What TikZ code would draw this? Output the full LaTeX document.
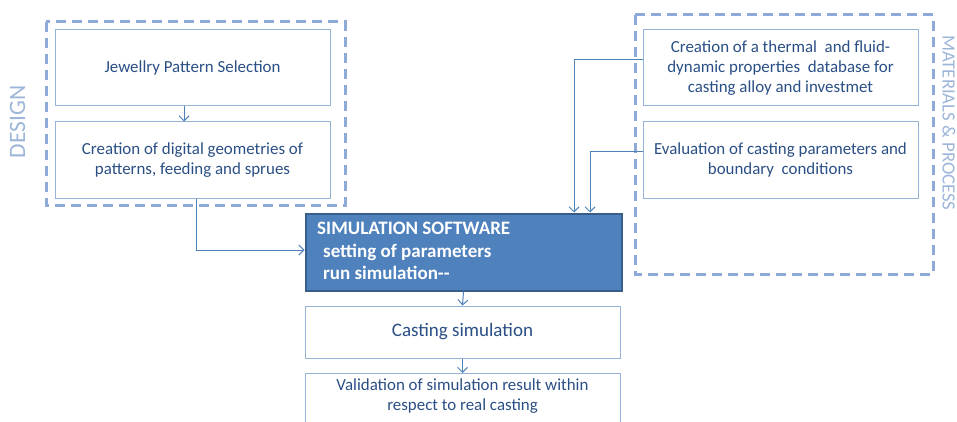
\documentclass[tikz,border=0pt]{standalone}
\usepackage{fontspec}
\setmainfont{Carlito}
\usepackage{tikz}
\usetikzlibrary{arrows.meta,positioning}

\definecolor{boxline}{HTML}{95B3D7}
\definecolor{dashline}{HTML}{8EAAD8}
\definecolor{txtblue}{HTML}{2A4F85}
\definecolor{linkblue}{HTML}{4F81BD}
\definecolor{simfill}{HTML}{4F81BD}
\definecolor{simline}{HTML}{385D8A}
\definecolor{sidetxt}{HTML}{9DB5D9}

\begin{document}
\begin{tikzpicture}[x=1pt,y=-1pt,
	stepbox/.style={draw=boxline,line width=1pt,fill=white,text=txtblue,align=center,
		minimum width=275pt,minimum height=76pt,inner sep=0pt,
		font=\fontsize{16.9}{20}\selectfont},
	groupbox/.style={draw=dashline,line width=3pt,dash pattern=on 10pt off 6pt},
	link/.style={draw=linkblue,line width=1pt,-{Straight Barb[length=5pt,width=10pt]}},
	sidelabel/.style={text=sidetxt,inner sep=0pt}]
	\useasboundingbox (0,0) rectangle (957,422);
	\tikzstyle{every node}+=[inner sep=0pt]
	% groups
	\draw [groupbox] (46,22) rectangle (345,205);
	\draw [groupbox] (635,15) rectangle (933,274);
	\node [sidelabel,rotate=90,font=\fontsize{23.5}{26}\selectfont] (design) at (17.5,122) {DESIGN};
	\node [sidelabel,rotate=-90,font=\fontsize{18.7}{22}\selectfont] (matproc) at (949,123) {MATERIALS \& PROCESS};
	% design side
	\node [stepbox] (pattern) at (192.5,68) {Jewellry Pattern Selection};
	\node [stepbox] (geometry) at (192.5,160) {Creation of digital geometries of\\patterns, feeding and sprues};
	% materials side
	\node [stepbox] (database) at (780.5,68) {Creation of a thermal \ and fluid-\\dynamic properties \ database for\\casting alloy and investmet};
	\node [stepbox] (params) at (780.5,160) {Evaluation of casting parameters and\\boundary \ conditions};
	% middle column
	\node [draw=simline,line width=2pt,fill=simfill,minimum width=316pt,minimum height=77pt] (software) at (463.5,252) {};
	\node [text=white,align=left,anchor=north west,font=\fontsize{19}{22.5}\selectfont\bfseries] (softtxt) at (317,222)
		{SIMULATION SOFTWARE\\\hspace*{6pt}setting of parameters\\\hspace*{6pt}run simulation-{}-};
	\node [stepbox,minimum width=315pt,minimum height=52pt,font=\fontsize{19}{22}\selectfont] (casting) at (462.5,332) {Casting simulation};
	\node [stepbox,minimum width=315pt,minimum height=60pt,anchor=north] (validation) at (462.5,373) {};
	\node [text=txtblue,align=center,font=\fontsize{16.9}{20}\selectfont] (validtxt) at (462.5,396)
		{Validation of simulation result within\\respect to real casting};
	% links
	\draw [link] ([xshift=-8.5pt]pattern.south) -- ([xshift=-8.5pt]geometry.north);
	\draw [link] ([xshift=3.5pt]geometry.south) |- ([yshift=2pt]software.west);
	\draw [link] ([yshift=8pt]database.west) -| ([xshift=110.5pt]software.north);
	\draw [link] ([yshift=8pt]params.west) -| ([xshift=126.5pt]software.north);
	\draw [link] (software.south) -- (casting.north);
	\draw [link] (casting.south) -- (validation.north);
\end{tikzpicture}
\end{document}
